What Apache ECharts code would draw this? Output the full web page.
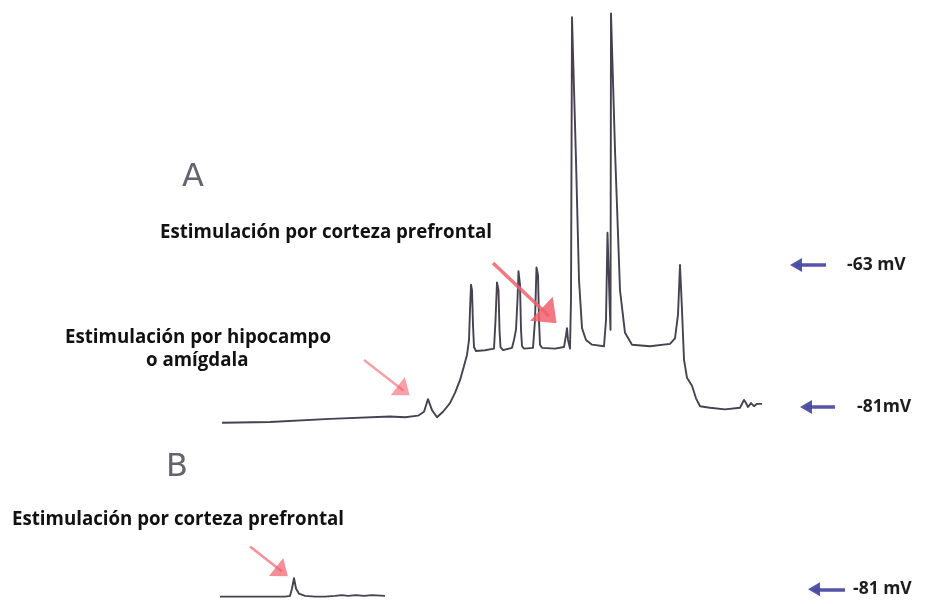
<!DOCTYPE html>
<html>
<head>
<meta charset="utf-8">
<script src="https://cdn.jsdelivr.net/npm/echarts@6/dist/echarts.min.js"></script>
<style>
  html, body { margin: 0; padding: 0; background: #ffffff; }
  #chart { width: 925px; height: 604px; }
</style>
</head>
<body>
<div id="chart"></div>
<script>
// Trace A: membrane potential (mV) against time (ms)
const timeA = [2, 50, 110, 170, 185, 198, 204, 208, 212, 217, 223, 230, 235, 240, 244, 247, 249, 250, 251, 252, 253, 254, 256,
  265, 274, 275.5, 277, 278.5, 279.5, 280.5, 283, 292, 294, 296, 297.5, 298.5, 300, 301, 302, 304,
  313, 315, 316.5, 318, 319, 320, 322, 335, 344, 346, 347, 348, 350, 351, 352, 356, 359, 362, 366, 372,
  384, 386, 387.5, 389.5, 390.5, 391, 395, 400, 405, 412, 430, 450, 455, 458, 460, 462, 464, 467, 472, 476, 480,
  490, 505, 520, 524, 526, 528, 531, 534, 537, 542];
const vmA = [-83.0, -82.9, -82.5, -82.2, -82.3, -82.1, -81.6, -80.0, -81.4, -82.3, -81.6, -80.5, -79.2, -77.6, -75.8, -74.4, -72.5, -68.7, -65.5, -66.2, -70.6, -73.4, -73.9,
  -73.8, -73.6, -70.0, -65.2, -66.2, -71.2, -73.4, -73.8, -73.5, -72.5, -71.2, -67.4, -63.8, -65.5, -71.2, -73.3, -73.6,
  -73.5, -70.0, -63.3, -64.3, -70.0, -73.1, -73.5, -73.6, -73.4, -71.9, -71.0, -72.5, -73.6, -67.4, -31.6, -49.7, -64.9, -71.0, -72.5, -73.1,
  -73.3, -70.0, -58.9, -67.4, -71.2, -31.1, -48.4, -66.2, -71.6, -73.1, -73.3, -73.0, -72.3, -69.3, -63.0, -68.7, -75.0, -77.3, -78.3, -79.9, -80.9,
  -81.1, -81.3, -81.1, -80.1, -80.5, -81.0, -80.5, -80.9, -80.6, -80.6];

// Trace B: response to prefrontal stimulation alone
const timeB = [0, 65, 70, 72, 74, 76, 79, 85, 95, 105, 115, 122, 128, 136, 144, 152, 165];
const vmB = [-82.0, -82.0, -81.9, -80.9, -79.5, -80.9, -81.6, -81.9, -82.0, -82.0, -81.9, -81.8, -81.9, -81.8, -81.9, -81.8, -81.9];

// Reference potentials marked at the right
const levelsA = [-63, -81];
const levelLabelsA = ['-63 mV', '-81mV'];
const levelB = -81;
const levelLabelB = '-81 mV';

// Stimulus arrows: [t start, mV start, t end, mV end]
const stimPrefrontalA = [273, -62.75, 329, -69.46];
const stimHipocampo = [144, -75.04, 183.7, -78.93];
const stimPrefrontalB = [30, -75.17, 62, -78.59];

const textStimPFC = 'Estimulación por corteza prefrontal';
const textStimHip = ['Estimulación por hipocampo', 'o amígdala'];

const pair = (t, v) => t.map((x, i) => [x, v[i]]);

const traceColor = '#46424f';
const levelColor = '#4b4ba3';
const stimColor = '#f0606f';
const labelFont = '"Open Sans", "Noto Sans", sans-serif';

function levelArrow(tStart, tEnd, mv, text, dist) {
  return [
    { coord: [tStart, mv], symbol: 'none',
      lineStyle: { color: levelColor, width: 3.5, type: 'solid', opacity: 0.95 },
      label: { show: true, position: 'start', formatter: text, distance: dist,
        color: '#111', fontWeight: 'bold', fontSize: 17.5, fontFamily: labelFont } },
    { coord: [tEnd, mv], symbol: 'triangle', symbolSize: [14, 12] }
  ];
}

function stimArrow(a, headW, headH, width, opacity) {
  return [
    { coord: [a[0], a[1]], symbol: 'none',
      lineStyle: { color: stimColor, width: width, type: 'solid', opacity: opacity },
      label: { show: false } },
    { coord: [a[2], a[3]], symbol: 'triangle', symbolSize: [headW, headH] }
  ];
}

const chart = echarts.init(document.getElementById('chart'), null, { renderer: 'canvas' });

const bold = { fontFamily: labelFont, fontWeight: 'bold', fontSize: 18.7, fill: '#111' };

chart.setOption({
  animation: false,
  backgroundColor: '#ffffff',
  grid: [
    { left: 220, top: 4.67, width: 705, height: 426 },
    { left: 220, top: 537.8, width: 705, height: 71 }
  ],
  xAxis: [
    { type: 'value', gridIndex: 0, min: 0, max: 705, show: false },
    { type: 'value', gridIndex: 1, min: 0, max: 705, show: false }
  ],
  yAxis: [
    { type: 'value', gridIndex: 0, min: -84, max: -30, show: false },
    { type: 'value', gridIndex: 1, min: -83, max: -74, show: false }
  ],
  series: [
    {
      type: 'line', xAxisIndex: 0, yAxisIndex: 0,
      data: pair(timeA, vmA),
      showSymbol: false, clip: false,
      lineStyle: { color: traceColor, width: 1.9, join: 'round' },
      markLine: {
        silent: true, animation: false,
        symbol: ['none', 'triangle'],
        data: [
          levelArrow(606, 576, levelsA[0], levelLabelsA[0], 21),
          levelArrow(615, 586, levelsA[1], levelLabelsA[1], 22),
          stimArrow(stimPrefrontalA, 33, 21, 3.5, 0.85),
          stimArrow(stimHipocampo, 23, 15, 2.5, 0.6)
        ]
      }
    },
    {
      type: 'line', xAxisIndex: 1, yAxisIndex: 1,
      data: pair(timeB, vmB),
      showSymbol: false, clip: false,
      lineStyle: { color: traceColor, width: 1.9, join: 'round' },
      markLine: {
        silent: true, animation: false,
        symbol: ['none', 'triangle'],
        data: [
          levelArrow(625, 594, levelB, levelLabelB, 8),
          stimArrow(stimPrefrontalB, 23, 15, 2.5, 0.7)
        ]
      }
    }
  ],
  graphic: [
    { type: 'text', left: 182, top: 162,
      style: { text: 'A', fontFamily: '"DejaVu Sans", sans-serif', fontSize: 32, fontWeight: 'normal', fill: '#66636f' } },
    { type: 'text', left: 166, top: 452,
      style: { text: 'B', fontFamily: '"DejaVu Sans", sans-serif', fontSize: 32, fontWeight: 'normal', fill: '#66636f' } },
    { type: 'text', left: 160, top: 223, style: Object.assign({ text: textStimPFC }, bold) },
    { type: 'text', left: 65, top: 328, style: Object.assign({ text: textStimHip[0] }, bold) },
    { type: 'text', left: 146, top: 351, style: Object.assign({ text: textStimHip[1] }, bold) },
    { type: 'text', left: 12, top: 510, style: Object.assign({ text: textStimPFC }, bold) }
  ]
});
</script>
</body>
</html>
